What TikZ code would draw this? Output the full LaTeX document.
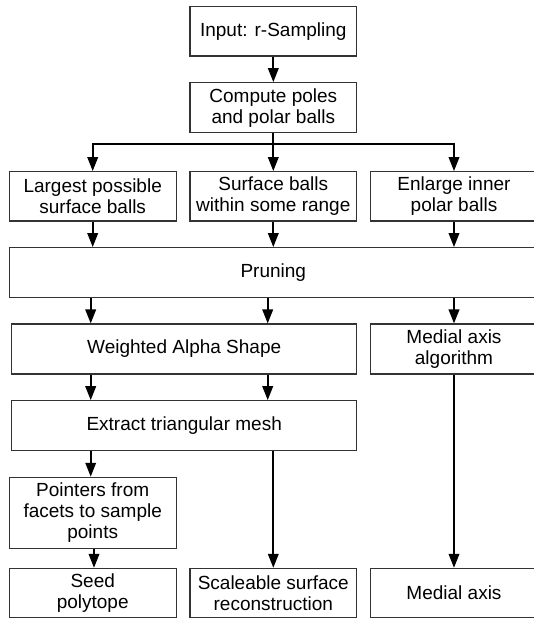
\documentclass[tikz,border=0pt]{standalone}
\usepackage{fontspec}
\setmainfont{Liberation Sans}
\usetikzlibrary{arrows.meta,calc}
\definecolor{boxgray}{HTML}{333333}
\begin{document}
\begin{tikzpicture}[x=1pt,y=-1pt,
  box/.style={draw=boxgray, line width=1.1pt, fill=white, align=center, inner sep=0pt,
    minimum width=166.7pt, minimum height=49.3pt, font=\fontsize{19}{21}\selectfont},
  arr/.style={line width=2pt, -{Triangle[length=14pt,width=10.5pt]}},
  ln/.style={line width=2pt}]
\fill[white] (0,0) rectangle (534,619);
\useasboundingbox (0,0) rectangle (534,619);

\node[box] (input) at (273.3,31.3) {Input: r-Sampling};
\node[box, minimum height=50pt] (compute) at (273.3,107.7) {Compute poles\\and polar balls};
\node[box] (lb) at (92.7,196.3) {Largest possible\\surface balls};
\node[box] (mb) at (273.3,196.3) {Surface balls\\within some range};
\node[box] (rb) at (454,196.3) {Enlarge inner\\polar balls};
\node[box, minimum width=528pt, minimum height=50pt] (prun) at (273.3,272.6) {Pruning};
\node[box, minimum width=345pt, minimum height=50pt] (wt) at (184.2,349) {Weighted Alpha Shape};
\node[box, minimum height=50pt] (ma) at (454,349) {Medial axis\\algorithm};
\node[box, minimum width=345pt, minimum height=50pt] (ex) at (184.2,425.7) {Extract triangular mesh};
\node[box, minimum height=71pt] (pt) at (92.7,512.8) {Pointers from\\facets to sample\\points};
\node[box] (sd) at (92.7,593) {Seed\\polytope};
\node[box] (sc) at (273.3,593) {Scaleable surface\\reconstruction};
\node[box] (mx) at (454,593) {Medial axis};

\coordinate (c1) at (90.7,0);
\coordinate (c2) at (267.7,0);
\coordinate (c3) at (94,0);
\coordinate (br) at (0,144.3);

\draw[arr] (input.south) -- (compute.north);
\draw[ln] (compute.south) -- (compute.south |- br);
\draw[arr] (compute.south |- br) -| (lb.north);
\draw[arr] (compute.south |- br) -| (rb.north);
\draw[arr] (compute.south) -- (mb.north);

\draw[arr] (lb.south) -- (lb.south |- prun.north);
\draw[arr] (mb.south) -- (mb.south |- prun.north);
\draw[arr] (rb.south) -- (rb.south |- prun.north);

\draw[arr] (prun.south -| c1) -- (wt.north -| c1);
\draw[arr] (prun.south -| c2) -- (wt.north -| c2);
\draw[arr] (prun.south -| ma.north) -- (ma.north);

\draw[arr] (wt.south -| c1) -- (ex.north -| c1);
\draw[arr] (wt.south -| c2) -- (ex.north -| c2);

\draw[arr] (ex.south -| c1) -- (pt.north -| c1);
\draw[arr] (ex.south -| sc.north) -- (sc.north);
\draw[arr] (ma.south) -- (mx.north);
\draw[arr] (pt.south -| c3) -- (sd.north -| c3);
\end{tikzpicture}
\end{document}
